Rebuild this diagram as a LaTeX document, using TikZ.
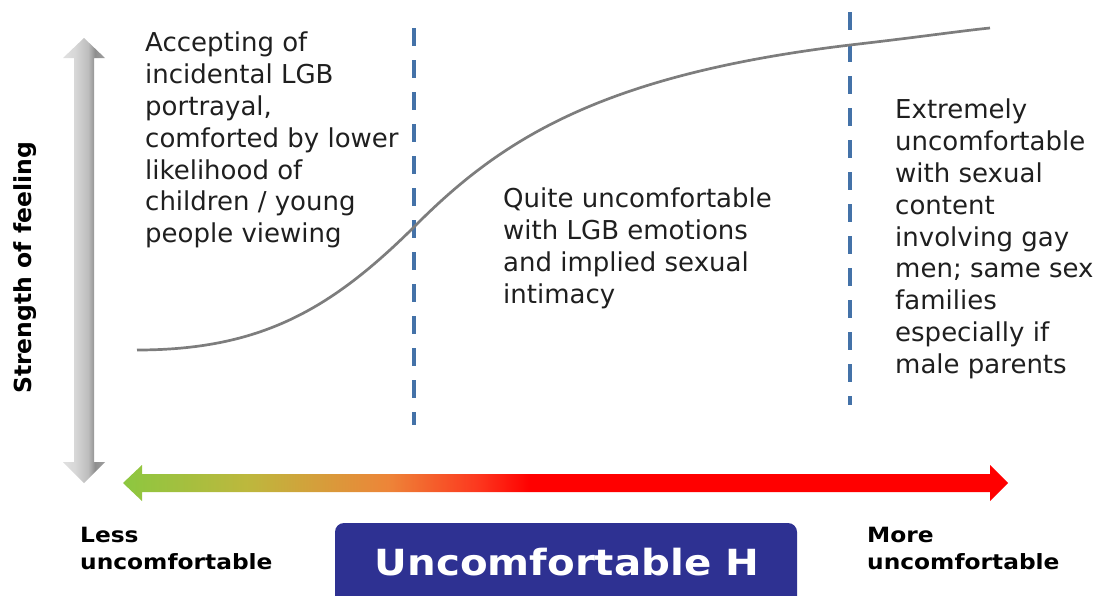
\documentclass[tikz,border=0pt]{standalone}
\usepackage{fontspec}
\setmainfont{DejaVu Sans}
\newfontfamily\bodyfont{DejaVu Sans}
\newfontfamily\labfont{DejaVu Sans Bold}[FakeStretch=1.11]
\newfontfamily\axisfont{DejaVu Sans Bold}
\newfontfamily\bigfont{DejaVu Sans Bold}[FakeStretch=1.12]
\definecolor{dashblue}{RGB}{68,114,168}
\definecolor{boxblue}{RGB}{46,49,146}
\definecolor{curvegray}{RGB}{125,125,125}
\pgfdeclarehorizontalshading{heatshade}{100bp}{rgb(0bp)=(0.55,0.78,0.25); rgb(25bp)=(0.55,0.78,0.25); rgb(32bp)=(0.74,0.72,0.24); rgb(40bp)=(0.93,0.52,0.22); rgb(45bp)=(0.99,0.22,0.12); rgb(48bp)=(1,0,0); rgb(100bp)=(1,0,0)}
\pgfdeclarehorizontalshading{grayshade}{100bp}{rgb(0bp)=(0.88,0.88,0.88); rgb(30bp)=(0.87,0.87,0.87); rgb(40bp)=(0.84,0.84,0.84); rgb(55bp)=(0.74,0.74,0.74); rgb(63bp)=(0.56,0.56,0.56); rgb(75bp)=(0.62,0.62,0.62); rgb(100bp)=(0.62,0.62,0.62)}
\tikzset{
  bodytext/.style={font=\bodyfont\fontsize{26}{31.8}\selectfont, align=left, inner sep=0pt, anchor=north west, text=black!88},
  endlabel/.style={font=\labfont\fontsize{21}{27}\selectfont, align=left, inner sep=0pt, anchor=north west},
  dashline/.style={draw=dashblue, line width=4.5pt, dash pattern=on 18pt off 14pt},
  curveline/.style={draw=curvegray, line width=2.7pt},
}
\begin{document}
\begin{tikzpicture}[x=1pt,y=-1pt]
\useasboundingbox (0,0) rectangle (1109,595);
% vertical gray arrow
\shade[shading=grayshade] (84,38) -- (105,58) -- (94,58) -- (94,462) -- (105,462) -- (84,483) -- (63,462) -- (74,462) -- (74,58) -- (63,58) -- cycle;
% horizontal colour arrow
\shade[shading=heatshade] (123,483) -- (142,465) -- (142,474) -- (990,474) -- (990,465) -- (1008,483) -- (990,501) -- (990,492) -- (142,492) -- (142,501) -- cycle;
% dashed lines
\draw[dashline] (414,28) -- (414,425);
\draw[dashline] (850,12) -- (850,405);
% curve
\draw[curveline] (137,350) .. controls (260,350) and (330,310) .. (413,228) .. controls (500,140) and (600,75) .. (850,45) .. controls (920,37) and (960,31) .. (990,28);
% texts
\node[bodytext] (lefttext) at (145,32) {Accepting of\\incidental LGB\\portrayal,\\comforted by lower\\likelihood of\\children / young\\people viewing};
\node[bodytext] (midtext) at (503,188) {Quite uncomfortable\\with LGB emotions\\and implied sexual\\intimacy};
\node[bodytext] (righttext) at (895,99) {Extremely\\uncomfortable\\with sexual\\content\\involving gay\\men; same sex\\families\\especially if\\male parents};
\node[font=\axisfont\fontsize{23.5}{27}\selectfont, rotate=90, inner sep=0pt] (ylabel) at (25,268) {Strength of feeling};
\node[endlabel] (less) at (80,527) {Less\\uncomfortable};
\node[endlabel] (more) at (867,527) {More\\uncomfortable};
\fill[boxblue, rounded corners=9pt] (335,523) rectangle (797,606);
\node[font=\bigfont\fontsize{36}{40}\selectfont, text=white, anchor=base, inner sep=0pt] (title) at (567,575) {Uncomfortable H};
\end{tikzpicture}
\end{document}
